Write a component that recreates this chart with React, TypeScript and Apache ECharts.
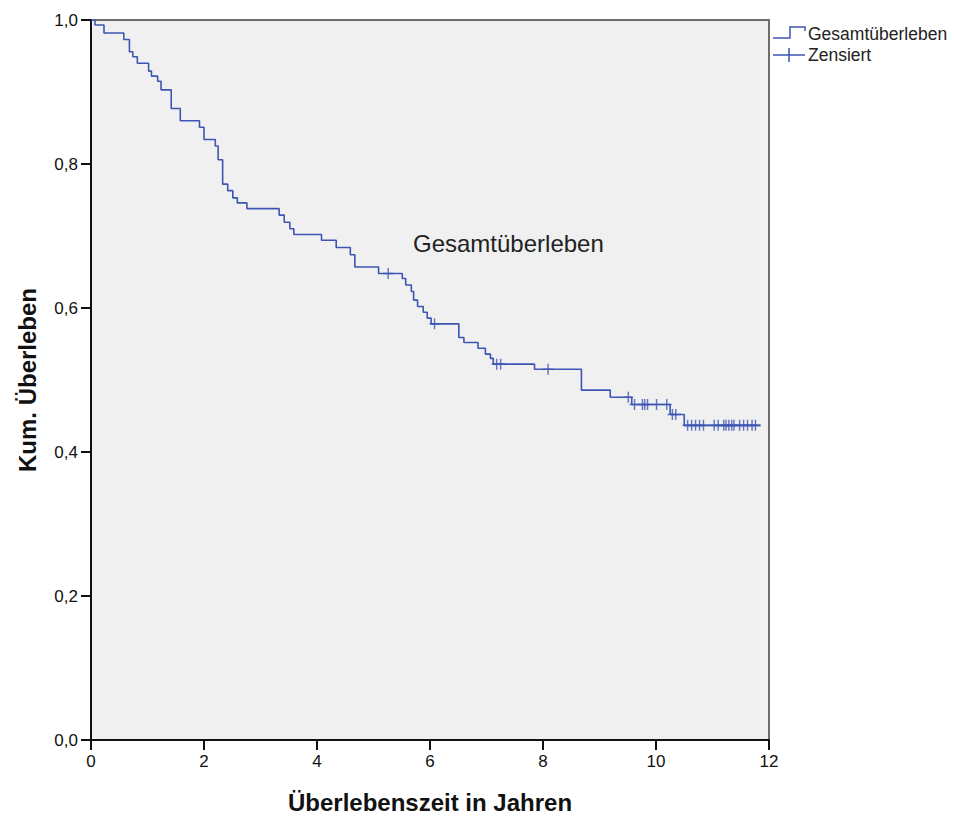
import React, { useEffect, useRef } from "react";
import * as echarts from "echarts";

// Kaplan-Meier step points: time (years) and cumulative survival after the event
const eventTimes = [
  0, 0.07, 0.23, 0.58, 0.68, 0.74, 0.82, 1.02, 1.07, 1.18, 1.24, 1.42, 1.58, 1.92,
  2.0, 2.2, 2.25, 2.33, 2.42, 2.51, 2.59, 2.76, 3.33, 3.42, 3.52, 3.59, 4.08, 4.34,
  4.59, 4.67, 5.09, 5.51, 5.57, 5.67, 5.71, 5.78, 5.88, 5.95, 6.02, 6.51, 6.6, 6.85,
  6.98, 7.07, 7.12, 7.85, 8.68, 9.19, 9.57, 10.25, 10.5, 11.85,
];
const survival = [
  1.0, 0.993, 0.982, 0.973, 0.956, 0.949, 0.94, 0.929, 0.922, 0.915, 0.903, 0.877, 0.86, 0.851,
  0.834, 0.825, 0.806, 0.772, 0.763, 0.753, 0.746, 0.738, 0.729, 0.719, 0.71, 0.702, 0.694, 0.684,
  0.674, 0.657, 0.648, 0.641, 0.632, 0.623, 0.611, 0.602, 0.594, 0.586, 0.578, 0.559, 0.552, 0.544,
  0.536, 0.53, 0.522, 0.515, 0.486, 0.476, 0.466, 0.452, 0.437, 0.437,
];
const censorTimes = [
  5.26, 6.08, 7.18, 7.25, 8.09, 9.51, 9.62, 9.76, 9.8, 9.85, 10.01, 10.19, 10.29, 10.35,
  10.56, 10.63, 10.7, 10.77, 10.84, 11.03, 11.1, 11.2, 11.24, 11.29, 11.34, 11.38, 11.48,
  11.55, 11.62, 11.7, 11.76,
];
const yTicks = [0, 0.2, 0.4, 0.6, 0.8, 1.0];
const xTicks = [0, 2, 4, 6, 8, 10, 12];

const seriesName = "Gesamtüberleben";
const censorName = "Zensiert";
const xTitle = "Überlebenszeit in Jahren";
const yTitle = "Kum. Überleben";

const BLUE = "#3d55b3";
const FONT = "'Liberation Sans', Arial, sans-serif";

function survivalAt(t: number): number {
  let s = survival[0];
  for (let i = 0; i < eventTimes.length; i++) {
    if (eventTimes[i] <= t) s = survival[i];
  }
  return s;
}

export default function App() {
  const ref = useRef<HTMLDivElement>(null);
  useEffect(() => {
    if (!ref.current) return;
    const chart = echarts.init(ref.current, undefined, { renderer: "svg" });
    const stepData = eventTimes.map((t, i) => [t, survival[i]]);
    const censorData = censorTimes.map((t) => [t, survivalAt(t)]);
    chart.setOption({
      animation: false,
      backgroundColor: "#ffffff",
      grid: {
        left: 91,
        top: 20,
        width: 678,
        height: 725,
        show: true,
        backgroundColor: "#f0f0f0",
        borderColor: "#6e6e6e",
        borderWidth: 2,
      },
      xAxis: {
        type: "value",
        min: 0,
        max: 12,
        interval: 2,
        name: xTitle,
        nameLocation: "middle",
        nameGap: 50,
        nameTextStyle: { fontFamily: FONT, fontSize: 24, fontWeight: "bold", color: "#111" },
        axisLine: { show: true, onZero: false, lineStyle: { color: "#111", width: 2 } },
        axisTick: { show: true, length: 10, lineStyle: { color: "#111", width: 2 } },
        axisLabel: {
          fontFamily: FONT,
          fontSize: 17,
          color: "#111",
          margin: 13,
          formatter: (v: number) => (xTicks.includes(v) ? String(v) : ""),
        },
        splitLine: { show: false },
      },
      yAxis: {
        type: "value",
        min: 0,
        max: 1,
        interval: 0.2,
        name: yTitle,
        nameLocation: "middle",
        nameGap: 52,
        nameRotate: 90,
        nameTextStyle: { fontFamily: FONT, fontSize: 24, fontWeight: "bold", color: "#111" },
        axisLine: { show: true, lineStyle: { color: "#111", width: 2 } },
        axisTick: { show: true, length: 10, lineStyle: { color: "#111", width: 2 } },
        axisLabel: {
          fontFamily: FONT,
          fontSize: 17,
          color: "#111",
          margin: 13,
          formatter: (v: number) => {
            const near = yTicks.find((k) => Math.abs(k - v) < 1e-6);
            return near === undefined ? "" : near.toFixed(1).replace(".", ",");
          },
        },
        splitLine: { show: false },
      },
      series: [
        {
          name: seriesName,
          type: "line",
          step: "end",
          data: stepData,
          symbol: "none",
          lineStyle: { color: BLUE, width: 1.6 },
          z: 3,
        },
        {
          name: censorName,
          type: "scatter",
          data: censorData,
          symbol: "path://M5,0L5,10M0,5L10,5",
          symbolSize: [10, 11],
          itemStyle: { color: "transparent", borderColor: BLUE, borderWidth: 1.5 },
          z: 4,
        },
      ],
      graphic: [
        {
          type: "text",
          left: 413,
          top: 231,
          style: { text: seriesName, fontFamily: FONT, fontSize: 24, fill: "#222" },
        },
        {
          type: "polyline",
          shape: { points: [[773, 38], [790, 38], [790, 27], [805, 27], [805, 31]] },
          style: { stroke: BLUE, lineWidth: 1.5, fill: "none" },
        },
        {
          type: "text",
          left: 808,
          top: 25,
          style: { text: seriesName, fontFamily: FONT, fontSize: 17.5, fill: "#222" },
        },
        {
          type: "line",
          shape: { x1: 773, y1: 55, x2: 805, y2: 55 },
          style: { stroke: BLUE, lineWidth: 1.5 },
        },
        {
          type: "line",
          shape: { x1: 789, y1: 48, x2: 789, y2: 62 },
          style: { stroke: BLUE, lineWidth: 1.5 },
        },
        {
          type: "text",
          left: 808,
          top: 46,
          style: { text: censorName, fontFamily: FONT, fontSize: 17.5, fill: "#222" },
        },
      ],
    });
    return () => chart.dispose();
  }, []);
  return (
    <div
      ref={ref}
      style={{ position: "fixed", left: 0, top: 0, width: 954, height: 819 }}
    />
  );
}
